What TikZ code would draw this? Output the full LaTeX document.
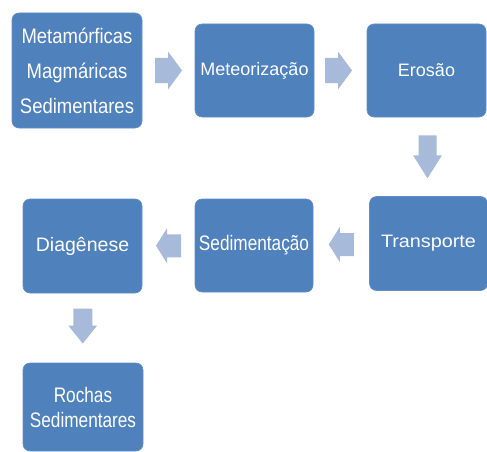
\documentclass[tikz,border=0pt]{standalone}
\usepackage{fontspec}
\setmainfont{Liberation Sans}
\newfontfamily\fA[FakeStretch=0.88]{Liberation Sans}
\newfontfamily\fB[FakeStretch=0.82]{Liberation Sans}
\newfontfamily\fC[FakeStretch=1.1]{Liberation Sans}
\usetikzlibrary{calc}
\definecolor{boxblue}{RGB}{79,129,189}
\definecolor{boxedge}{RGB}{98,143,198}
\definecolor{arrowblue}{RGB}{168,186,218}
\tikzset{
  box/.style={rectangle, rounded corners=7pt, fill=boxblue, draw=boxedge,
    line width=0.6pt, text=white, align=center, inner sep=0pt},
}
\newcommand\barrow[6]{% center, angle, length, shaft width, head width, head length
  \fill[arrowblue, shift={(#1)}, rotate=#2]
    ({-#3/2},{-#4/2}) -- ({#3/2-#6},{-#4/2}) -- ({#3/2-#6},{-#5/2}) -- ({#3/2},0)
    -- ({#3/2-#6},{#5/2}) -- ({#3/2-#6},{#4/2}) -- ({-#3/2},{#4/2}) -- cycle;}
\begin{document}
\begin{tikzpicture}[x=1pt,y=-1pt]
\useasboundingbox (0,0) rectangle (487,452);
% boxes
\node[box, minimum width=130pt, minimum height=115pt,
  font=\fA\fontsize{21}{35}\selectfont] (m1) at (77,70.5)
  {Metamórficas\\Magmáricas\\Sedimentares};
\node[box, minimum width=119pt, minimum height=93pt,
  font=\fontsize{18}{22}\selectfont] (m2) at (254.5,70.5) {Meteorização};
\node[box, minimum width=119pt, minimum height=93pt,
  font=\fontsize{18}{22}\selectfont] (m3) at (426.5,70.5) {Erosão};
\node[box, minimum width=118pt, minimum height=94pt,
  font=\fC\fontsize{18}{22}\selectfont] (t) at (428.5,243.5) {Transporte};
\node[box, minimum width=118pt, minimum height=93pt,
  font=\fB\fontsize{21}{25}\selectfont] (s) at (254,245.5) {Sedimentação};
\node[box, minimum width=119pt, minimum height=94pt,
  font=\fontsize{19.5}{23}\selectfont] (d) at (82.5,246) {Diagênese};
\node[box, minimum width=120pt, minimum height=88pt,
  font=\fB\fontsize{21}{25}\selectfont] (r) at (83,407) {Rochas\\Sedimentares};
% arrow positions
\coordinate (a1) at ($(m1.east)!0.5!(m2.west)$);
\coordinate (a2) at ($(m2.east)!0.5!(m3.west)+(-2,0)$);
\coordinate (a3) at ($(m3.south)!0.5!(t.north)$);
\coordinate (a4) at ($(t.west)!0.5!(s.east)$);
\coordinate (a5) at ($(s.west)!0.5!(d.east)$);
\coordinate (a6) at ($(d.south)!0.5!(r.north)+(0,-2)$);
\barrow{a1}{0}{27}{25}{38}{14}
\barrow{a2}{0}{27}{25}{38}{14}
\barrow{a3}{-90}{43}{18}{29}{23}
\barrow{a4}{180}{25}{23}{35}{11}
\barrow{a5}{180}{25}{23}{35}{11}
\barrow{a6}{-90}{35}{19}{29}{18}
\end{tikzpicture}
\end{document}
